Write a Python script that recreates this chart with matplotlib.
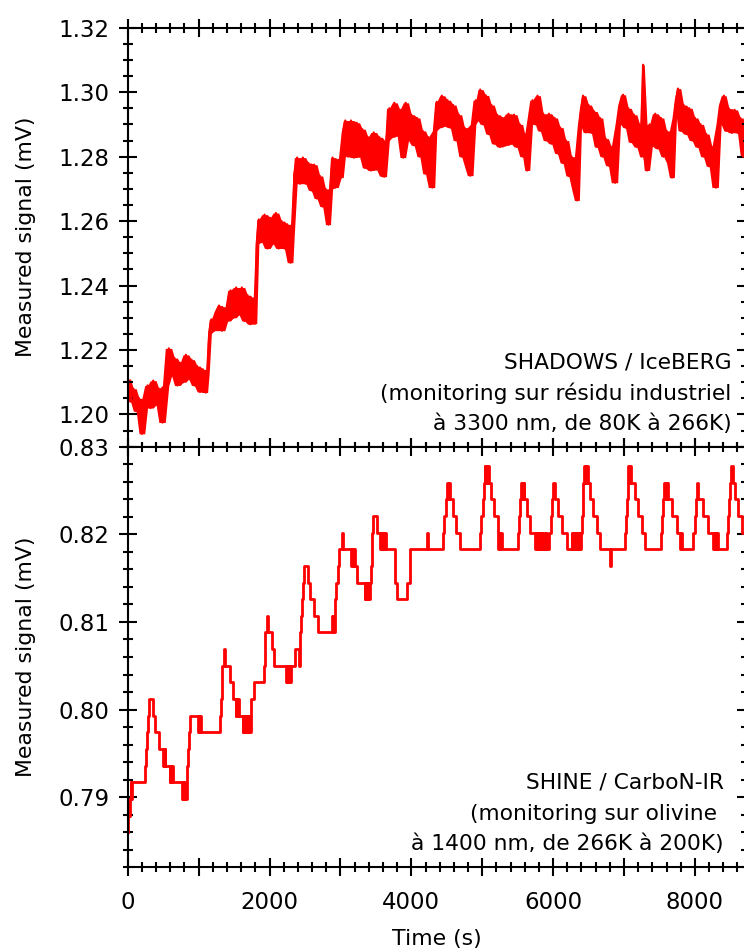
import matplotlib
matplotlib.use("Agg")
import matplotlib.pyplot as plt
import numpy as np
from matplotlib.ticker import MultipleLocator, FuncFormatter, FormatStrFormatter

# top panel : SHADOWS / IceBERG (noisy signal)
t_top = [0, 40, 80, 120, 160, 200, 240, 280, 320, 360,
         400, 440, 490, 530, 580, 620, 660, 700, 740, 780,
         820, 860, 900, 940, 980, 1020, 1060, 1100, 1127, 1150,
         1180, 1220, 1260, 1290, 1330, 1370, 1410, 1450, 1490, 1530,
         1570, 1610, 1650, 1690, 1730, 1770, 1800, 1820, 1850, 1890,
         1930, 1970, 2010, 2050, 2090, 2130, 2170, 2210, 2250, 2296,
         2330, 2350, 2390, 2430, 2470, 2510, 2550, 2590, 2630, 2670,
         2710, 2750, 2790, 2832, 2860, 2890, 2930, 2970, 3010, 3040,
         3070, 3110, 3150, 3190, 3230, 3270, 3310, 3350, 3390, 3430,
         3470, 3510, 3550, 3590, 3625, 3650, 3690, 3730, 3760, 3800,
         3840, 3887, 3920, 3960, 4000, 4040, 4080, 4120, 4160, 4200,
         4240, 4296, 4330, 4360, 4400, 4430, 4470, 4510, 4550, 4590,
         4630, 4670, 4710, 4750, 4790, 4831, 4870, 4910, 4940, 4972,
         5010, 5050, 5090, 5130, 5170, 5210, 5250, 5290, 5330, 5370,
         5410, 5450, 5490, 5530, 5570, 5600, 5634, 5670, 5710, 5750,
         5780, 5820, 5860, 5900, 5940, 5980, 6020, 6060, 6100, 6140,
         6180, 6220, 6260, 6300, 6338, 6370, 6400, 6423, 6460, 6500,
         6540, 6580, 6620, 6660, 6700, 6740, 6780, 6820, 6873, 6910,
         6950, 6986, 7020, 7060, 7100, 7140, 7180, 7220, 7250, 7268,
         7285, 7324, 7360, 7400, 7440, 7480, 7520, 7560, 7600, 7640,
         7676, 7710, 7740, 7761, 7800, 7840, 7880, 7920, 7960, 8000,
         8040, 8080, 8120, 8160, 8200, 8240, 8296, 8330, 8370, 8408,
         8440, 8480, 8520, 8560, 8600, 8640, 8680, 8720]
v_top = [1.211, 1.204, 1.208, 1.201, 1.205, 1.194, 1.203, 1.209, 1.202, 1.2105,
         1.203, 1.208, 1.1975, 1.209, 1.2205, 1.212, 1.2175, 1.209, 1.216, 1.210,
         1.2185, 1.211, 1.217, 1.209, 1.215, 1.207, 1.214, 1.2068, 1.213, 1.2251,
         1.2295, 1.226, 1.232, 1.2338, 1.226, 1.233, 1.229, 1.2385, 1.230, 1.2394,
         1.231, 1.2394, 1.229, 1.237, 1.228, 1.236, 1.2282, 1.253, 1.2605, 1.2535,
         1.262, 1.2515, 1.261, 1.253, 1.2625, 1.2515, 1.260, 1.2515, 1.259, 1.2471,
         1.256, 1.2745, 1.2797, 1.2716, 1.2797, 1.2716, 1.278, 1.2695, 1.2775, 1.267,
         1.274, 1.2645, 1.270, 1.2589, 1.270, 1.2797, 1.2704, 1.279, 1.2735, 1.2875,
         1.2912, 1.280, 1.2912, 1.2797, 1.2905, 1.280, 1.2885, 1.2765, 1.286, 1.2757,
         1.2875, 1.276, 1.286, 1.274, 1.2738, 1.285, 1.295, 1.286, 1.2967, 1.2865,
         1.2945, 1.2797, 1.2967, 1.285, 1.293, 1.2835, 1.292, 1.280, 1.288, 1.2747,
         1.286, 1.2704, 1.288, 1.297, 1.289, 1.2989, 1.2895, 1.2975, 1.289, 1.296,
         1.285, 1.293, 1.280, 1.289, 1.277, 1.2741, 1.290, 1.2975, 1.2912, 1.3008,
         1.290, 1.299, 1.287, 1.296, 1.284, 1.293, 1.283, 1.292, 1.2835, 1.2933,
         1.284, 1.293, 1.283, 1.290, 1.280, 1.287, 1.2757, 1.292, 1.2975, 1.290,
         1.2989, 1.288, 1.2933, 1.285, 1.2933, 1.284, 1.292, 1.281, 1.289, 1.278,
         1.285, 1.274, 1.280, 1.270, 1.2664, 1.289, 1.295, 1.2989, 1.2875, 1.296,
         1.2874, 1.294, 1.283, 1.292, 1.280, 1.2856, 1.2772, 1.283, 1.2719, 1.290,
         1.296, 1.2992, 1.289, 1.295, 1.2845, 1.293, 1.283, 1.290, 1.280, 1.3085,
         1.280, 1.2757, 1.290, 1.2833, 1.2933, 1.2825, 1.292, 1.280, 1.288, 1.278,
         1.2735, 1.292, 1.298, 1.3011, 1.288, 1.296, 1.287, 1.295, 1.285, 1.292,
         1.283, 1.290, 1.280, 1.287, 1.277, 1.283, 1.2704, 1.290, 1.296, 1.2989,
         1.288, 1.2949, 1.2874, 1.2945, 1.2874, 1.292, 1.280, 1.286]

# bottom panel : SHINE / CarboN-IR (quantised steps)
t_bot = [0, 8, 14, 20, 26, 32, 38, 44, 50, 56,
         249, 258, 268, 282, 296, 352, 385, 446, 500, 508,
         516, 524, 532, 590, 600, 610, 620, 634, 765, 775,
         785, 795, 805, 831, 848, 864, 880, 990, 1000, 1010,
         1020, 1030, 1305, 1315, 1325, 1335, 1360, 1372, 1437, 1484,
         1524, 1534, 1544, 1554, 1564, 1620, 1630, 1640, 1650, 1660,
         1670, 1680, 1690, 1700, 1710, 1720, 1737, 1745, 1784, 1920,
         1930, 1940, 1970, 1980, 2030, 2066, 2230, 2240, 2250, 2260,
         2270, 2280, 2290, 2300, 2366, 2420, 2428, 2437, 2450, 2460,
         2470, 2480, 2540, 2577, 2624, 2685, 2880, 2890, 2900, 2910,
         2920, 2930, 2940, 2960, 2985, 3020, 3030, 3155, 3165, 3175,
         3185, 3200, 3240, 3343, 3353, 3363, 3373, 3383, 3393, 3403,
         3413, 3430, 3440, 3450, 3460, 3510, 3560, 3570, 3580, 3590,
         3600, 3610, 3620, 3630, 3640, 3775, 3803, 3944, 3977, 4225,
         4235, 4441, 4465, 4493, 4502, 4515, 4525, 4540, 4582, 4634,
         4690, 4972, 4981, 5005, 5019, 5033, 5045, 5055, 5065, 5075,
         5089, 5122, 5160, 5216, 5226, 5236, 5246, 5256, 5277, 5502,
         5521, 5535, 5545, 5555, 5565, 5575, 5585, 5592, 5629, 5676,
         5746, 5756, 5766, 5776, 5786, 5796, 5806, 5816, 5826, 5836,
         5846, 5870, 5880, 5900, 5910, 5948, 5967, 5986, 6005, 6020,
         6075, 6122, 6192, 6263, 6273, 6283, 6293, 6310, 6320, 6340,
         6350, 6365, 6375, 6390, 6405, 6415, 6425, 6437, 6450, 6460,
         6470, 6480, 6497, 6521, 6568, 6615, 6662, 6808, 6816, 7014,
         7030, 7045, 7055, 7061, 7075, 7085, 7095, 7108, 7155, 7202,
         7249, 7296, 7525, 7531, 7554, 7568, 7580, 7590, 7600, 7610,
         7625, 7672, 7742, 7789, 7799, 7812, 7977, 8000, 8014, 8023,
         8047, 8117, 8188, 8258, 8268, 8278, 8290, 8300, 8310, 8320,
         8446, 8469, 8479, 8493, 8502, 8540, 8563, 8610, 8657, 8720]
v_bot = [0.7860, 0.7879, 0.7898, 0.7879, 0.7898, 0.7879, 0.7898, 0.7917, 0.7898, 0.7917,
         0.7936, 0.7955, 0.7974, 0.7993, 0.8012, 0.7993, 0.7974, 0.7955, 0.7936, 0.7955,
         0.7936, 0.7955, 0.7936, 0.7917, 0.7936, 0.7917, 0.7936, 0.7917, 0.7898, 0.7917,
         0.7898, 0.7917, 0.7898, 0.7936, 0.7955, 0.7974, 0.7993, 0.7974, 0.7993, 0.7974,
         0.7993, 0.7974, 0.7993, 0.8012, 0.8031, 0.8050, 0.8069, 0.8050, 0.8031, 0.8012,
         0.7993, 0.8012, 0.7993, 0.8012, 0.7993, 0.7974, 0.7993, 0.7974, 0.7993, 0.7974,
         0.7993, 0.7974, 0.7993, 0.7974, 0.7993, 0.7974, 0.7993, 0.8012, 0.8031, 0.8050,
         0.8069, 0.8088, 0.8107, 0.8088, 0.8069, 0.8050, 0.8031, 0.8050, 0.8031, 0.8050,
         0.8031, 0.8050, 0.8031, 0.8050, 0.8069, 0.8050, 0.8069, 0.8088, 0.8107, 0.8126,
         0.8145, 0.8164, 0.8145, 0.8126, 0.8107, 0.8088, 0.8107, 0.8088, 0.8107, 0.8088,
         0.8107, 0.8126, 0.8145, 0.8164, 0.8183, 0.8202, 0.8183, 0.8164, 0.8183, 0.8164,
         0.8183, 0.8164, 0.8145, 0.8126, 0.8145, 0.8126, 0.8145, 0.8126, 0.8145, 0.8126,
         0.8145, 0.8164, 0.8183, 0.8202, 0.8221, 0.8202, 0.8183, 0.8202, 0.8183, 0.8202,
         0.8183, 0.8202, 0.8183, 0.8202, 0.8183, 0.8145, 0.8126, 0.8145, 0.8183, 0.8202,
         0.8183, 0.8202, 0.8221, 0.8240, 0.8259, 0.8240, 0.8259, 0.8240, 0.8221, 0.8202,
         0.8183, 0.8202, 0.8221, 0.8240, 0.8259, 0.8278, 0.8259, 0.8278, 0.8259, 0.8278,
         0.8259, 0.8240, 0.8221, 0.8202, 0.8183, 0.8202, 0.8183, 0.8202, 0.8183, 0.8202,
         0.8221, 0.8240, 0.8259, 0.8240, 0.8259, 0.8240, 0.8259, 0.8240, 0.8221, 0.8202,
         0.8183, 0.8202, 0.8183, 0.8202, 0.8183, 0.8202, 0.8183, 0.8202, 0.8183, 0.8202,
         0.8183, 0.8202, 0.8183, 0.8202, 0.8183, 0.8202, 0.8221, 0.8240, 0.8259, 0.8240,
         0.8221, 0.8202, 0.8183, 0.8202, 0.8183, 0.8202, 0.8183, 0.8202, 0.8183, 0.8202,
         0.8183, 0.8202, 0.8183, 0.8202, 0.8221, 0.8240, 0.8259, 0.8278, 0.8259, 0.8278,
         0.8259, 0.8278, 0.8259, 0.8240, 0.8221, 0.8202, 0.8183, 0.8164, 0.8183, 0.8202,
         0.8221, 0.8240, 0.8259, 0.8278, 0.8259, 0.8278, 0.8259, 0.8259, 0.8240, 0.8221,
         0.8202, 0.8183, 0.8202, 0.8221, 0.8240, 0.8259, 0.8240, 0.8259, 0.8240, 0.8259,
         0.8240, 0.8221, 0.8202, 0.8183, 0.8202, 0.8183, 0.8202, 0.8221, 0.8240, 0.8259,
         0.8240, 0.8221, 0.8202, 0.8183, 0.8202, 0.8183, 0.8202, 0.8183, 0.8202, 0.8183,
         0.8202, 0.8221, 0.8240, 0.8259, 0.8278, 0.8259, 0.8240, 0.8221, 0.8202, 0.8202]

top_note = ["SHADOWS / IceBERG",
            "(monitoring sur résidu industriel",
            "à 3300 nm, de 80K à 266K)"]
bot_note = ["SHINE / CarboN-IR",
            "(monitoring sur olivine ",
            "à 1400 nm, de 266K à 200K)"]

plt.rcParams['font.family'] = ['DejaVu Sans']
W, H = 744, 952
fig = plt.figure(figsize=(W / 100, H / 100), dpi=100)

# axes boxes in pixels: left 127.7, right 746, panels 27.7-446.7 and 446.7-867.3
L, R = 127.7, 746.0
ax1 = fig.add_axes([L / W, 1 - 446.7 / H, (R - L) / W, 419.0 / H])
ax2 = fig.add_axes([L / W, 1 - 867.3 / H, (R - L) / W, 420.6 / H])

# the noise is so dense that it reads as a band: fill between the local
# extremes of neighbouring samples, then draw the trace itself on top
v = np.array(v_top)
prev = np.concatenate([v[:1], v[:-1]])
nxt = np.concatenate([v[1:], v[-1:]])
band_hi = np.maximum(np.maximum(prev, v), nxt)
band_lo = np.minimum(np.minimum(prev, v), nxt)
ax1.fill_between(t_top, band_lo, band_hi, color='red', lw=0)
ax1.plot(t_top, v_top, color='red', lw=1.6)
ax2.plot(t_bot, v_bot, color='red', lw=2.0, drawstyle='steps-post')

ax1.set_ylim(1.19, 1.32)
ax2.set_ylim(0.782, 0.83)
for ax in (ax1, ax2):
    ax.set_xlim(0, 8720)
    ax.xaxis.set_major_locator(MultipleLocator(1000))
    ax.xaxis.set_minor_locator(MultipleLocator(200))
    ax.xaxis.set_major_formatter(FuncFormatter(lambda x, p: "%d" % x if round(x) % 2000 == 0 else ""))
    ax.tick_params(which='both', direction='inout', top=True, right=True, width=1.5, labelsize=16.5)
    ax.tick_params(which='major', length=13)
    ax.tick_params(which='minor', length=6.5)
    ax.tick_params(axis='y', pad=6.5)
    ax.tick_params(axis='x', pad=10.5)
    for s in ax.spines.values():
        s.set_linewidth(1.5)
    ax.set_ylabel("Measured signal (mV)", fontsize=15.8)
    ax.yaxis.set_label_coords(-0.148, 0.5)

ax1.yaxis.set_major_locator(MultipleLocator(0.02))
ax1.yaxis.set_minor_locator(MultipleLocator(0.005))
ax1.yaxis.set_major_formatter(FormatStrFormatter('%.2f'))
ax1.tick_params(axis='x', labelbottom=False)

ax2.yaxis.set_major_locator(MultipleLocator(0.01))
ax2.yaxis.set_minor_locator(MultipleLocator(0.002))
ax2.yaxis.set_major_formatter(FormatStrFormatter('%.2f'))
ax2.set_xlabel("Time (s)", fontsize=15.8)
ax2.xaxis.set_label_coords(0.5, -0.1467)

for txt, y in zip(top_note, [0.1878, 0.1115, 0.0399]):
    ax1.text(0.9769, y, txt, transform=ax1.transAxes, ha='right', va='baseline', fontsize=15.7)
for txt, y in zip(bot_note, [0.1862, 0.1125, 0.0411]):
    ax2.text(0.9644, y, txt, transform=ax2.transAxes, ha='right', va='baseline', fontsize=15.7)

fig.savefig("out.png", dpi=100)
